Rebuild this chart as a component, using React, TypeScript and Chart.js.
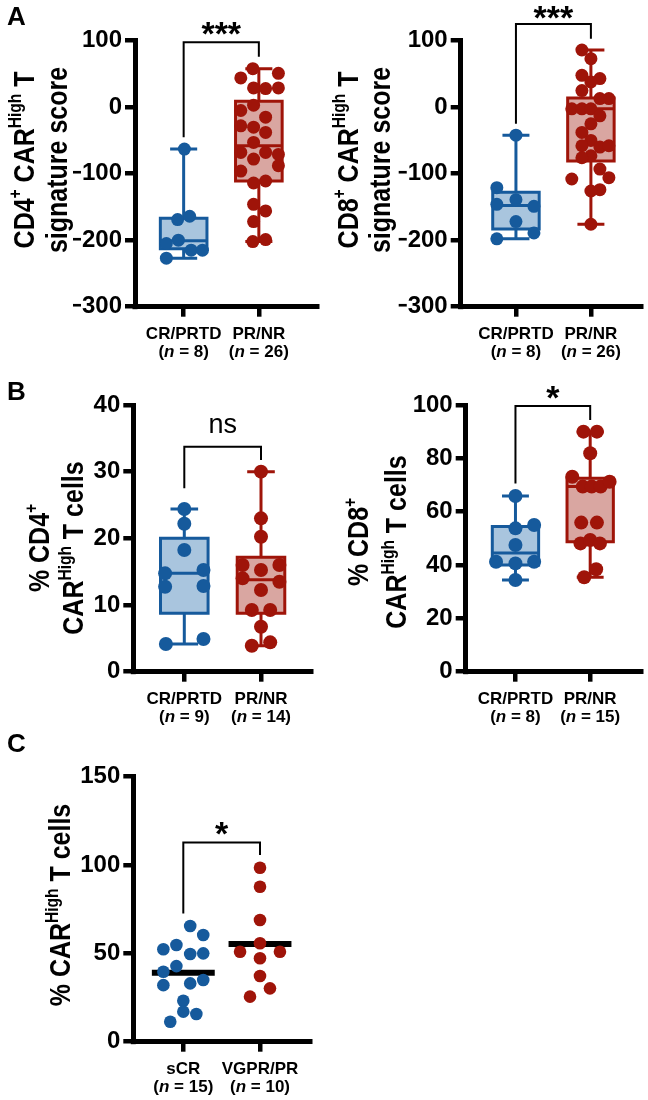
import React, { useEffect, useRef } from 'react';
import { Chart, registerables } from 'chart.js';

Chart.register(...registerables);

const FONT = '"Liberation Sans", Arial, Helvetica, sans-serif';
const BLUE = '#165a9c';
const BLUE_FILL = '#a9c5de';
const RED = '#9f1409';
const RED_FILL = '#d9a6a1';

// ---------------- Panel A : signature scores ----------------
const A_CATEGORIES = ['CR/PRTD', 'PR/NR'];
const A_N = [8, 26];
const A_Y_TICKS = [-300, -200, -100, 0, 100];

const A4_CR = [-63, -169, -164, -205, -200, -215, -215, -227];
const A4_CR_JITTER = [0.01, -0.08, 0.08, -0.23, -0.07, 0.1, 0.25, -0.23];
const A4_CR_BOX = [-227, -213, -201, -167, -63]; // min, q1, median, q3, max
const A4_PR = [58, 44, 51, 29, 28, 29, 3, -5, -15, -28, -30, -38, -53, -68, -68, -71, -78, -96, -88, -114, -111, -146, -156, -172, -202, -199];
const A4_PR_JITTER = [-0.08, -0.24, 0.26, -0.07, 0.09, 0.26, -0.07, -0.24, 0.09, -0.24, -0.07, 0.09, -0.07, -0.24, 0.09, 0.26, -0.07, -0.24, 0.26, -0.07, 0.09, -0.07, 0.09, -0.07, -0.08, 0.09];
const A4_PR_BOX = [-202, -111, -58, 9, 58];
const A4_BRACKET = [97.6, -45, 76]; // top, left end, right end

const A8_CR = [-42, -121, -146, -139, -149, -172, -189, -198];
const A8_CR_JITTER = [0, -0.255, -0.255, 0, 0.24, 0, 0.24, -0.255];
const A8_CR_BOX = [-198, -183, -148, -128, -42];
const A8_PR = [86, 73, 48, 43, 38, 25, 13, 13, -2.5, -2.5, -2.5, -13, -25, -38, -50, -58, -60, -58, -73, -76, -93, -108, -106, -124, -126, -176];
const A8_PR_JITTER = [-0.12, 0, -0.12, 0.12, 0, -0.12, 0.24, 0.12, -0.255, -0.12, 0, 0.12, 0, -0.12, 0, -0.12, 0.12, 0.24, 0, -0.12, 0.12, -0.255, 0.24, 0.12, 0, 0];
const A8_PR_BOX = [-176, -81, -2.5, 14, 86];
const A8_BRACKET = [125, -25, 103];

// ---------------- Panel B : % CAR-high T cells ----------------
const B_CATEGORIES = ['CR/PRTD', 'PR/NR'];
const B4_N = [9, 14];
const B8_N = [8, 15];
const B4_Y_TICKS = [0, 10, 20, 30, 40];
const B8_Y_TICKS = [0, 20, 40, 60, 80, 100];

const B4_CR = [24.4, 22.2, 18.25, 14.75, 15.25, 12.75, 12.85, 4.15, 4.9];
const B4_CR_JITTER = [0, 0, 0, -0.25, 0.25, -0.25, 0.25, -0.24, 0.25];
const B4_CR_BOX = [4.15, 8.75, 14.75, 20, 24.4];
const B4_PR = [30, 23, 20.25, 16, 15.25, 16, 14, 13.5, 12.25, 9.25, 9.25, 6.75, 3.9, 4.4];
const B4_PR_JITTER = [0, 0, 0, -0.24, 0, 0.24, -0.24, 0.24, 0, -0.12, 0.12, 0, -0.12, 0.12];
const B4_PR_BOX = [3.9, 8.75, 13.8, 17.15, 30];
const B4_BRACKET = [33.75, 27.5, 31.75];

const B8_CR = [65.9, 53.75, 55, 47.5, 41.25, 40.6, 41.25, 34.4];
const B8_CR_JITTER = [0, 0, 0.25, 0, -0.26, 0, 0.25, 0];
const B8_CR_BOX = [34.4, 40, 44.5, 54.4, 65.9];
const B8_PR = [90, 90, 81.9, 73.1, 69.4, 69.4, 69.4, 71.25, 55.9, 55.9, 48.1, 49.4, 48.1, 38.4, 35.4];
const B8_PR_JITTER = [-0.09, 0.09, 0, -0.24, -0.1, 0.02, 0.14, 0.26, -0.12, 0.09, -0.13, 0, 0.13, 0.08, -0.08];
const B8_PR_BOX = [35.4, 48.75, 69.4, 72.5, 90];
const B8_BRACKET = [99.6, 70.6, 94.4];

// ---------------- Panel C : % CAR-high T cells by response ----------------
const C_CATEGORIES = ['sCR', 'VGPR/PR'];
const C_N = [15, 10];
const C_Y_TICKS = [0, 50, 100, 150];
const C_SCR = [65.5, 60.4, 52.3, 54.7, 49.6, 50, 42.8, 39.6, 32, 33, 34.9, 23.2, 17, 15.7, 11.3];
const C_SCR_JITTER = [0.09, 0.26, -0.26, -0.09, 0.09, 0.26, -0.09, -0.26, -0.26, 0.09, 0.26, 0, 0, 0.17, -0.17];
const C_VGPR = [98.5, 87.7, 68.9, 55.7, 50.9, 50.9, 47.2, 37.2, 30.2, 25.5];
const C_VGPR_JITTER = [0, 0, 0, 0, -0.26, 0.26, 0, 0, 0.13, -0.13];
const C_MEDIANS = [39, 55.3];
const C_BRACKET = [112.8, 72.6, 105.7];

// ---------------- drawing helpers ----------------
const BOX_HALF = 0.31;
const CAP_HALF = 0.18;
const MED_HALF = 0.41;
const TITLE_SIZE = 25;
const TITLE_STRETCH = 1.15;
const XLAB_SIZE = 17;
const TICK_SIZE = 24;
const XL1 = 32.5;
const XL2 = 50;

type Seg = { t: string; sup?: boolean; it?: boolean };
type Group = { values: number[]; jitter: number[]; box?: number[]; median?: number; color: string; fill: string };
type Panel = {
  left: number; top: number; w: number; h: number;
  area: { l: number; t: number; r: number; b: number };
  xRange: number[]; yRange: number[]; yTicks: number[];
  cats: string[]; ns: number[]; groups: Group[]; radius: number;
  bracket: number[]; sig: string; sigBold: boolean; sigSize: number; sigOffset: number;
  title: { segs: Seg[]; x: number; cy: number }[];
  letter?: { t: string; x: number; y: number };
};

function segFont(size: number, s: Seg) {
  const sz = s.sup ? size * 0.62 : size;
  return `${s.it ? 'italic ' : ''}bold ${sz}px ${FONT}`;
}

function drawRich(ctx: CanvasRenderingContext2D, segs: Seg[], x: number, y: number, size: number) {
  let total = 0;
  const widths = segs.map((s) => {
    ctx.font = segFont(size, s);
    const w = ctx.measureText(s.t).width;
    total += w;
    return w;
  });
  let cx = x - total / 2;
  ctx.textAlign = 'left';
  ctx.textBaseline = 'alphabetic';
  segs.forEach((s, i) => {
    ctx.font = segFont(size, s);
    ctx.fillText(s.t, cx, y - (s.sup ? size * 0.42 : 0));
    cx += widths[i];
  });
}

function makePlugin(p: Panel) {
  return {
    id: 'annot',
    afterDraw(chart: any) {
      const ctx: CanvasRenderingContext2D = chart.ctx;
      const xs = chart.scales.x;
      const ys = chart.scales.y;
      const ca = chart.chartArea;
      ctx.save();
      ctx.fillStyle = '#000';
      ctx.fillRect(ca.left - 2.5, ca.bottom - 2.5, 5, 5);
      // category labels
      p.cats.forEach((cat, i) => {
        const px = xs.getPixelForValue(i + 1);
        drawRich(ctx, [{ t: cat }], px, ca.bottom + XL1, XLAB_SIZE);
        drawRich(ctx, [{ t: '(' }, { t: 'n', it: true }, { t: ` = ${p.ns[i]})` }], px, ca.bottom + XL2, XLAB_SIZE);
      });
      // significance bracket
      const [bt, bl, br] = p.bracket;
      const x1 = xs.getPixelForValue(1);
      const x2 = xs.getPixelForValue(2);
      const yt = ys.getPixelForValue(bt);
      ctx.strokeStyle = '#000';
      ctx.lineWidth = 2;
      ctx.lineJoin = 'miter';
      ctx.beginPath();
      ctx.moveTo(x1, ys.getPixelForValue(bl));
      ctx.lineTo(x1, yt);
      ctx.lineTo(x2, yt);
      ctx.lineTo(x2, ys.getPixelForValue(br));
      ctx.stroke();
      ctx.font = `${p.sigBold ? 'bold ' : ''}${p.sigSize}px ${FONT}`;
      ctx.textAlign = 'center';
      ctx.textBaseline = 'alphabetic';
      const m = ctx.measureText(p.sig);
      const cy = yt - p.sigOffset;
      ctx.fillText(p.sig, (x1 + x2) / 2, cy + (m.actualBoundingBoxAscent - m.actualBoundingBoxDescent) / 2);
      // axis titles
      p.title.forEach((line) => {
        ctx.save();
        ctx.translate(line.x, line.cy);
        ctx.rotate(-Math.PI / 2);
        ctx.scale(1, TITLE_STRETCH);
        drawRich(ctx, line.segs, 0, 0, TITLE_SIZE);
        ctx.restore();
      });
      if (p.letter) {
        ctx.font = `bold 26px ${FONT}`;
        ctx.textAlign = 'left';
        ctx.textBaseline = 'alphabetic';
        ctx.fillText(p.letter.t, p.letter.x, p.letter.y);
      }
      ctx.restore();
    },
  };
}

function buildConfig(p: Panel): any {
  const datasets: any[] = [];
  p.groups.forEach((g, gi) => {
    const c = gi + 1;
    datasets.push({
      data: g.values.map((v, i) => ({ x: c + g.jitter[i], y: v })),
      pointRadius: p.radius,
      pointBackgroundColor: g.color,
      pointBorderWidth: 0,
      order: 0,
    });
    if (g.box) {
      const [mn, q1, md, q3, mx] = g.box;
      datasets.push({
        data: [
          { x: c - BOX_HALF, y: q1 }, { x: c + BOX_HALF, y: q1 }, { x: c + BOX_HALF, y: q3 },
          { x: c - BOX_HALF, y: q3 }, { x: c - BOX_HALF, y: q1 }, { x: c + BOX_HALF, y: q1 },
        ],
        showLine: true,
        fill: 'shape',
        backgroundColor: g.fill,
        borderColor: g.color,
        borderWidth: 3,
        pointRadius: 0,
        order: 2,
      });
      datasets.push({
        data: [
          { x: c, y: mx }, { x: c, y: q3 }, { x: c, y: null },
          { x: c, y: q1 }, { x: c, y: mn }, { x: c, y: null },
          { x: c - CAP_HALF, y: mx }, { x: c + CAP_HALF, y: mx }, { x: c, y: null },
          { x: c - CAP_HALF, y: mn }, { x: c + CAP_HALF, y: mn }, { x: c, y: null },
          { x: c - BOX_HALF, y: md }, { x: c + BOX_HALF, y: md },
        ],
        showLine: true,
        spanGaps: false,
        borderColor: g.color,
        borderWidth: 3,
        pointRadius: 0,
        order: 1,
      });
    }
    if (g.median !== undefined) {
      datasets.push({
        data: [{ x: c - MED_HALF, y: g.median }, { x: c + MED_HALF, y: g.median }],
        showLine: true,
        borderColor: '#000',
        borderWidth: 6,
        pointRadius: 0,
        order: 1,
      });
    }
  });
  const yW = 62;
  const xH = 12;
  const axisGrid = { display: true, drawOnChartArea: false, drawTicks: true, tickLength: 10, lineWidth: 4.5, color: '#000' };
  const axisBorder = { display: true, width: 5, color: '#000' };
  return {
    type: 'scatter',
    data: { datasets },
    plugins: [makePlugin(p)],
    options: {
      responsive: false,
      animation: false,
      events: [],
      layout: {
        padding: { left: p.area.l - yW, top: p.area.t, right: p.w - p.area.r, bottom: p.h - p.area.b - xH },
      },
      plugins: { legend: { display: false }, tooltip: { enabled: false } },
      scales: {
        x: {
          type: 'linear',
          min: p.xRange[0],
          max: p.xRange[1],
          afterBuildTicks: (s: any) => { s.ticks = p.cats.map((_, i) => ({ value: i + 1 })); },
          afterFit: (s: any) => { s.height = xH; },
          ticks: { display: false },
          grid: axisGrid,
          border: axisBorder,
        },
        y: {
          type: 'linear',
          min: p.yRange[0],
          max: p.yRange[1],
          afterBuildTicks: (s: any) => { s.ticks = p.yTicks.map((v) => ({ value: v })); },
          afterFit: (s: any) => { s.width = yW; },
          ticks: {
            color: '#000',
            padding: 3,
            autoSkip: false,
            font: { family: FONT, size: TICK_SIZE, weight: 'bold' },
            callback: (v: any) => String(v).replace('-', '\u2212'),
          },
          grid: axisGrid,
          border: axisBorder,
        },
      },
    },
  };
}

const PANELS: Panel[] = [
  {
    left: 0, top: 0, w: 324, h: 370,
    area: { l: 135, t: 40.7, r: 320, b: 306.7 },
    xRange: [0.353, 2.78], yRange: [-300, 100], yTicks: A_Y_TICKS,
    cats: A_CATEGORIES, ns: A_N, radius: 6.5,
    groups: [
      { values: A4_CR, jitter: A4_CR_JITTER, box: A4_CR_BOX, color: BLUE, fill: BLUE_FILL },
      { values: A4_PR, jitter: A4_PR_JITTER, box: A4_PR_BOX, color: RED, fill: RED_FILL },
    ],
    bracket: A4_BRACKET, sig: '***', sigBold: true, sigSize: 34, sigOffset: 13.5,
    title: [
      { segs: [{ t: 'CD4' }, { t: '+', sup: true }, { t: ' CAR' }, { t: 'High', sup: true }, { t: ' T' }], x: 33.5, cy: 160 },
      { segs: [{ t: 'signature score' }], x: 66.5, cy: 160 },
    ],
    letter: { t: 'A', x: 7, y: 25 },
  },
  {
    left: 324, top: 0, w: 324, h: 370,
    area: { l: 136.7, t: 40.7, r: 320, b: 306.7 },
    xRange: [0.263, 2.675], yRange: [-300, 100], yTicks: A_Y_TICKS,
    cats: A_CATEGORIES, ns: A_N, radius: 6.5,
    groups: [
      { values: A8_CR, jitter: A8_CR_JITTER, box: A8_CR_BOX, color: BLUE, fill: BLUE_FILL },
      { values: A8_PR, jitter: A8_PR_JITTER, box: A8_PR_BOX, color: RED, fill: RED_FILL },
    ],
    bracket: A8_BRACKET, sig: '***', sigBold: true, sigSize: 34, sigOffset: 11.5,
    title: [
      { segs: [{ t: 'CD8' }, { t: '+', sup: true }, { t: ' CAR' }, { t: 'High', sup: true }, { t: ' T' }], x: 33.5, cy: 160 },
      { segs: [{ t: 'signature score' }], x: 65.5, cy: 160 },
    ],
  },
  {
    left: 0, top: 370, w: 324, h: 360,
    area: { l: 133.3, t: 35, r: 311.7, b: 301.7 },
    xRange: [0.335, 2.661], yRange: [0, 40], yTicks: B4_Y_TICKS,
    cats: B_CATEGORIES, ns: B4_N, radius: 7,
    groups: [
      { values: B4_CR, jitter: B4_CR_JITTER, box: B4_CR_BOX, color: BLUE, fill: BLUE_FILL },
      { values: B4_PR, jitter: B4_PR_JITTER, box: B4_PR_BOX, color: RED, fill: RED_FILL },
    ],
    bracket: B4_BRACKET, sig: 'ns', sigBold: false, sigSize: 27, sigOffset: 21,
    title: [
      { segs: [{ t: '% CD4' }, { t: '+', sup: true }], x: 49, cy: 178 },
      { segs: [{ t: 'CAR' }, { t: 'High', sup: true }, { t: ' T cells' }], x: 83, cy: 178 },
    ],
    letter: { t: 'B', x: 7, y: 30 },
  },
  {
    left: 324, top: 370, w: 324, h: 360,
    area: { l: 141.7, t: 35, r: 320, b: 301.7 },
    xRange: [0.334, 2.68], yRange: [0, 100], yTicks: B8_Y_TICKS,
    cats: B_CATEGORIES, ns: B8_N, radius: 7,
    groups: [
      { values: B8_CR, jitter: B8_CR_JITTER, box: B8_CR_BOX, color: BLUE, fill: BLUE_FILL },
      { values: B8_PR, jitter: B8_PR_JITTER, box: B8_PR_BOX, color: RED, fill: RED_FILL },
    ],
    bracket: B8_BRACKET, sig: '*', sigBold: true, sigSize: 34, sigOffset: 14,
    title: [
      { segs: [{ t: '% CD8' }, { t: '+', sup: true }], x: 44, cy: 172 },
      { segs: [{ t: 'CAR' }, { t: 'High', sup: true }, { t: ' T cells' }], x: 82, cy: 172 },
    ],
  },
  {
    left: 0, top: 730, w: 324, h: 370,
    area: { l: 133.3, t: 46.7, r: 310, b: 311.7 },
    xRange: [0.348, 2.652], yRange: [0, 150], yTicks: C_Y_TICKS,
    cats: C_CATEGORIES, ns: C_N, radius: 6.3,
    groups: [
      { values: C_SCR, jitter: C_SCR_JITTER, median: C_MEDIANS[0], color: BLUE, fill: BLUE_FILL },
      { values: C_VGPR, jitter: C_VGPR_JITTER, median: C_MEDIANS[1], color: RED, fill: RED_FILL },
    ],
    bracket: C_BRACKET, sig: '*', sigBold: true, sigSize: 34, sigOffset: 14,
    title: [
      { segs: [{ t: '% CAR' }, { t: 'High', sup: true }, { t: ' T cells' }], x: 70, cy: 175 },
    ],
    letter: { t: 'C', x: 7, y: 22 },
  },
];

function PanelChart({ panel }: { panel: Panel }) {
  const ref = useRef<HTMLCanvasElement | null>(null);
  useEffect(() => {
    if (!ref.current) return;
    const chart = new Chart(ref.current, buildConfig(panel));
    return () => chart.destroy();
  }, [panel]);
  return (
    <canvas
      ref={ref}
      width={panel.w}
      height={panel.h}
      style={{ position: 'absolute', left: panel.left, top: panel.top, width: panel.w, height: panel.h, display: 'block' }}
    />
  );
}

export default function App() {
  return (
    <div style={{ position: 'absolute', left: 0, top: 0, width: 648, height: 1100, background: '#fff' }}>
      {PANELS.map((p, i) => (
        <PanelChart key={i} panel={p} />
      ))}
    </div>
  );
}
